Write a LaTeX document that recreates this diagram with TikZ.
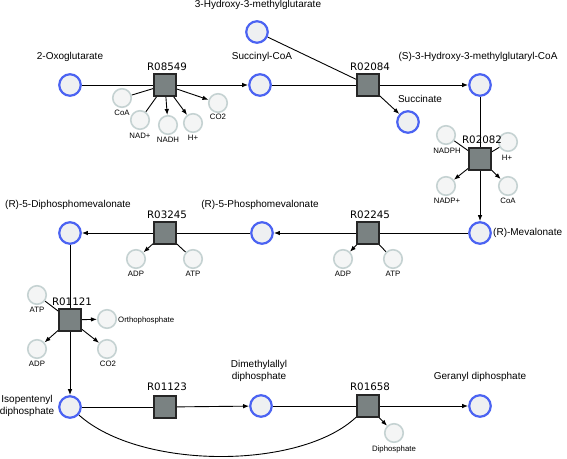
\documentclass[tikz,border=0pt]{standalone}
\usepackage{fontspec}
\setmainfont{Liberation Sans}
\newfontfamily\rfont{DejaVu Sans}
\usetikzlibrary{arrows.meta,backgrounds}
\definecolor{metblue}{HTML}{4B63F2}
\definecolor{metfill}{HTML}{EEF0F2}
\definecolor{sidegray}{HTML}{C5D2D2}
\definecolor{sidefill}{HTML}{F4F5F5}
\definecolor{rxnfill}{HTML}{7A8282}
\begin{document}
\begin{tikzpicture}[x=1pt,y=-1pt,
  met/.style={circle, draw=metblue, fill=metfill, line width=2.2pt, minimum size=21.5pt, inner sep=0pt},
  side/.style={circle, draw=sidegray, fill=sidefill, line width=1.6pt, minimum size=18.5pt, inner sep=0pt},
  rxn/.style={rectangle, draw=black!85, fill=rxnfill, line width=1.8pt, minimum size=22pt, inner sep=0pt},
  lbl/.style={font=\fontsize{10}{11.5}\selectfont, inner sep=0pt, align=center},
  slbl/.style={font=\fontsize{7.8}{9}\selectfont, inner sep=0pt},
  rlbl/.style={font=\rfont\fontsize{10.3}{12}\selectfont, inner sep=0pt},
  edge/.style={line width=0.9pt, draw=black},
  arr/.style={edge, -{Latex[length=6pt,width=4.5pt]}},
]
\useasboundingbox (0,0) rectangle (567,458);

% ---------- row 1 ----------
\node[met] (oxo) at (70,85) {};
\node[lbl] (oxoL) at (70,57) {2-Oxoglutarate};
\node[rxn] (r08549) at (165,85) {};
\node[rlbl] (r08549L) at (167,67) {R08549};
\node[met] (succoa) at (260,85) {};
\node[lbl] (succoaL) at (262,57) {Succinyl-CoA};
\node[met] (hmg) at (257,32) {};
\node[lbl] (hmgL) at (258,5) {3-Hydroxy-3-methylglutarate};
\node[rxn] (r02084) at (368,85) {};
\node[rlbl] (r02084L) at (370,67) {R02084};
\node[met] (hmgcoa) at (480,85) {};
\node[lbl] (hmgcoaL) at (478,57) {(S)-3-Hydroxy-3-methylglutaryl-CoA};
\node[met] (succ) at (408,122) {};
\node[lbl] (succL) at (420,99) {Succinate};

\node[side] (coa1) at (122,98) {};
\node[slbl] (coa1L) at (122,113) {CoA};
\node[side] (nad) at (140,120) {};
\node[slbl] (nadL) at (140,136) {NAD+};
\node[side] (nadh) at (168,125) {};
\node[slbl] (nadhL) at (168,140) {NADH};
\node[side] (h1) at (193,123) {};
\node[slbl] (h1L) at (193,138) {H+};
\node[side] (co21) at (218,103) {};
\node[slbl] (co21L) at (218,117) {CO2};

% ---------- R02082 ----------
\node[rxn] (r02082) at (480,159) {};
\node[side] (nadph) at (446,135) {};
\node[slbl] (nadphL) at (447,151) {NADPH};
\node[side] (h2) at (508,142) {};
\node[slbl] (h2L) at (507,158) {H+};
\node[side] (nadp) at (446,186) {};
\node[slbl] (nadpL) at (447,201) {NADP+};
\node[side] (coa2) at (508,186) {};
\node[slbl] (coa2L) at (508,201) {CoA};
\node[rlbl] (r02082L) at (482,140) {R02082};

% ---------- row 2 ----------
\node[met] (mev) at (480,233) {};
\node[lbl, anchor=west] (mevL) at (493,233) {(R)-Mevalonate};
\node[rxn] (r02245) at (368,233) {};
\node[rlbl] (r02245L) at (370,215) {R02245};
\node[side] (adp1) at (343,259) {};
\node[slbl] (adp1L) at (343,274) {ADP};
\node[side] (atp1) at (393,259) {};
\node[slbl] (atp1L) at (393,274) {ATP};
\node[met] (pmev) at (262,233) {};
\node[lbl] (pmevL) at (260,205) {(R)-5-Phosphomevalonate};
\node[rxn] (r03245) at (165,233) {};
\node[rlbl] (r03245L) at (167,215) {R03245};
\node[side] (adp2) at (136,259) {};
\node[slbl] (adp2L) at (136,274) {ADP};
\node[side] (atp2) at (193,259) {};
\node[slbl] (atp2L) at (193,274) {ATP};
\node[met] (dpmev) at (70,233) {};
\node[lbl] (dpmevL) at (68,205) {(R)-5-Diphosphomevalonate};

% ---------- R01121 ----------
\node[rxn] (r01121) at (70,320) {};
\node[side] (atp3) at (37,295) {};
\node[slbl] (atp3L) at (37,310) {ATP};
\node[side] (ortho) at (107,319) {};
\node[slbl, anchor=west] (orthoL) at (118,320) {Orthophosphate};
\node[side] (adp3) at (37,349) {};
\node[slbl] (adp3L) at (37,364) {ADP};
\node[side] (co22) at (107,349) {};
\node[slbl] (co22L) at (108,364) {CO2};
\node[rlbl] (r01121L) at (72,302) {R01121};

% ---------- row 3 ----------
\node[met] (ipp) at (70,407) {};
\node[lbl] (ippL) at (27,406) {Isopentenyl\\diphosphate};
\node[rxn] (r01123) at (165,407) {};
\node[rlbl] (r01123L) at (167,387) {R01123};
\node[met] (dmapp) at (261,406) {};
\node[lbl] (dmappL) at (259,371) {Dimethylallyl\\diphosphate};
\node[rxn] (r01658) at (368,406) {};
\node[rlbl] (r01658L) at (370,387) {R01658};
\node[side] (dipho) at (394,433) {};
\node[slbl] (diphoL) at (394,449) {Diphosphate};
\node[met] (gpp) at (480,406) {};
\node[lbl] (gppL) at (480,377) {Geranyl diphosphate};

% ---------- connectors ----------
\begin{scope}[on background layer]
\draw[edge] (oxo) -- (r08549);
\draw[arr] (r08549) -- (succoa);
\draw[edge] (coa1) -- (r08549);
\draw[edge] (nad) -- (r08549);
\draw[arr] (r08549) -- (nadh);
\draw[arr] (r08549) -- (h1);
\draw[arr] (r08549) -- (co21);

\draw[edge] (succoa) -- (r02084);
\draw[edge] (hmg) -- (r02084);
\draw[arr] (r02084) -- (hmgcoa);
\draw[arr] (r02084) -- (succ);

\draw[edge] (hmgcoa) -- (r02082);
\draw[arr] (r02082) -- (mev);
\draw[edge] (nadph) -- (r02082);
\draw[edge] (h2) -- (r02082);
\draw[arr] (r02082) -- (nadp);
\draw[arr] (r02082) -- (coa2);

\draw[edge] (mev) -- (r02245);
\draw[arr] (r02245) -- (pmev);
\draw[edge] (atp1) -- (r02245);
\draw[arr] (r02245) -- (adp1);

\draw[edge] (pmev) -- (r03245);
\draw[arr] (r03245) -- (dpmev);
\draw[edge] (atp2) -- (r03245);
\draw[arr] (r03245) -- (adp2);

\draw[edge] (dpmev) -- (r01121);
\draw[arr] (r01121) -- (ipp);
\draw[edge] (atp3) -- (r01121);
\draw[arr] (r01121) -- (ortho);
\draw[arr] (r01121) -- (adp3);
\draw[arr] (r01121) -- (co22);

\draw[edge] (ipp) -- (r01123);
\draw[arr] (r01123) -- (dmapp);
\draw[edge] (dmapp) -- (r01658);
\draw[arr] (r01658) -- (gpp);
\draw[arr] (r01658) -- (dipho);
\draw[edge] (ipp) .. controls (140,470) and (300,470) .. (r01658);
\end{scope}
\end{tikzpicture}
\end{document}
